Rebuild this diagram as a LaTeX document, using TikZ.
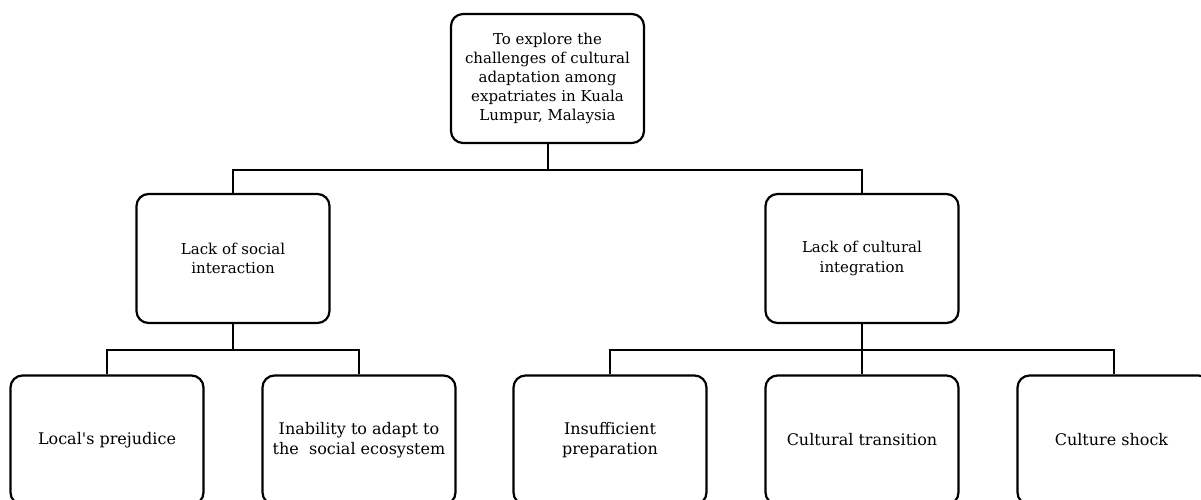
\documentclass[tikz,border=0pt]{standalone}
\usepackage{fontspec}
\setmainfont{DejaVu Serif}
\tikzset{
  box/.style={draw,rounded corners=12pt,line width=2.2pt,minimum width=193pt,
    minimum height=129pt,align=center,inner sep=2pt,
    font=\fontsize{16}{19.5}\selectfont},
  bigbox/.style={box,font=\fontsize{15}{19}\selectfont},
  midbox/.style={box,font=\fontsize{15}{19.5}\selectfont},
  link/.style={line width=2pt}
}
\begin{document}
\begin{tikzpicture}[x=1pt,y=-1pt]
  \useasboundingbox (0,0) rectangle (1201,499);
  \clip (0,0) rectangle (1201,499);
  \node[bigbox] (aim) at (547.5,78.5) {To explore the\\challenges of cultural\\adaptation among\\expatriates in Kuala\\Lumpur, Malaysia};
  \node[midbox] (social) at (233,258.5) {Lack of social\\interaction};
  \node[midbox] (integr) at (862,258.5) {Lack of cultural\\integration};
  \foreach \n/\x/\t in {
    prej/107/Local\textquotesingle s prejudice,
    ecosys/359/Inability to adapt to\\the\ \ social ecosystem,
    prep/610/Insufficient\\preparation,
    trans/862/Cultural transition,
    shock/1114/Culture shock
  }{
    \node[box] (\n) at (\x,440) {\t};
  }
  \draw[link] (aim.south) -- ++(0,26) -| (social.north);
  \draw[link] (aim.south) ++(0,26) -| (integr.north);
  \draw[link] (social.south) -- ++(0,26) -| (prej.north);
  \draw[link] (social.south) ++(0,26) -| (ecosys.north);
  \draw[link] (integr.south) -- (trans.north);
  \draw[link] (integr.south) ++(0,26) -| (prep.north);
  \draw[link] (integr.south) ++(0,26) -| (shock.north);
\end{tikzpicture}
\end{document}
